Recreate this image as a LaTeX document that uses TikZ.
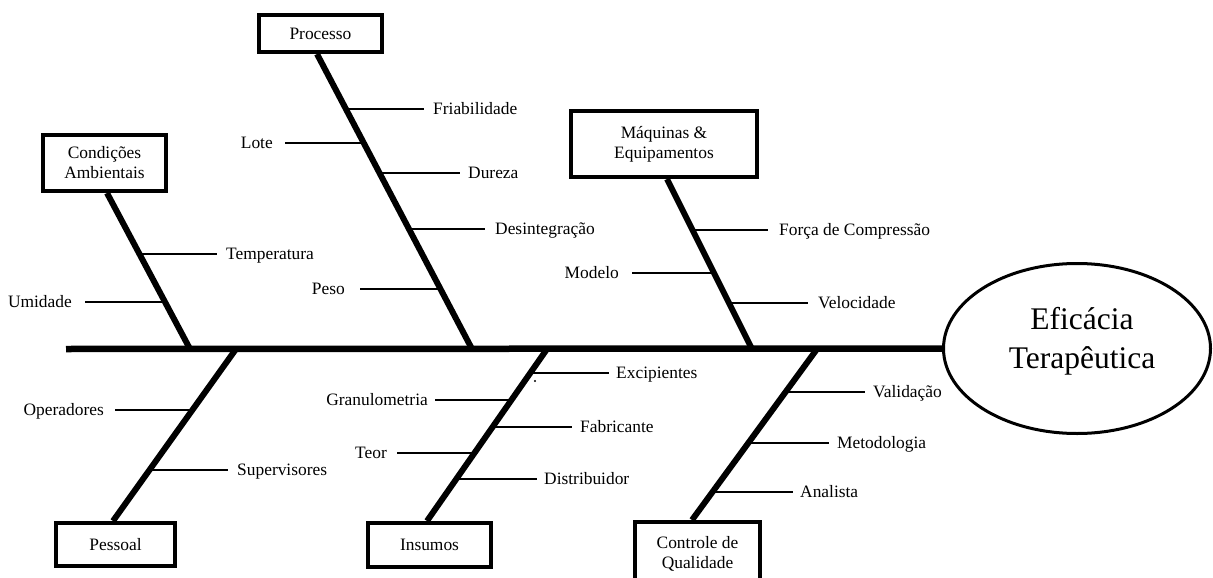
\documentclass[tikz,border=0pt]{standalone}
\usepackage{fontspec}
\setmainfont{Liberation Serif}
\usetikzlibrary{shapes.geometric}
\begin{document}
\begin{tikzpicture}[x=1pt,y=-1pt,
  lab/.style={font=\fontsize{17.4}{20}\selectfont, inner ysep=0pt, inner xsep=9pt, text height=11pt, text depth=0pt},
  labr/.style={lab, anchor=west},
  labl/.style={lab, anchor=east},
  box/.style={draw, line width=4pt, font=\fontsize{17.4}{20}\selectfont, align=center, inner sep=0pt},
  bone/.style={line width=6pt},
  spine/.style={line width=6.5pt},
  sub/.style={line width=2pt}]
\useasboundingbox (0,0) rectangle (1213,578);
\clip (0,0) rectangle (1213,578);

% boxes
\node[box, minimum width=123pt, minimum height=37pt] (pro) at (320.5,33.5) {Processo};
\node[box, minimum width=123pt, minimum height=56pt] (cond) at (104.5,163) {Condições\\Ambientais};
\node[box, minimum width=186pt, minimum height=66pt] (maq) at (664,144) {Máquinas \&\\Equipamentos};
\node[box, minimum width=119pt, minimum height=43pt] (pes) at (115.5,544.5) {Pessoal};
\node[box, minimum width=123pt, minimum height=44pt] (ins) at (429.5,545) {Insumos};
\node[box, minimum width=125pt, minimum height=62pt] (qc) at (697.5,553) {\\[-6pt]Controle de\\Qualidade};

% effect
\node[draw, ellipse, line width=3pt, minimum width=267pt, minimum height=170pt, inner sep=0pt] (eff) at (1077,348.5) {};
\node[font=\fontsize{31.5}{39}\selectfont, align=center, inner sep=0pt] (efft) at (1082,341) {Eficácia\\Terapêutica};

% spine
\coordinate (tail) at (66,349);
\draw[spine] (tail) -- (eff.west);

% spine junctions
\coordinate (jc) at (190,349);
\coordinate (jp) at (472,349);
\coordinate (jm) at (752,349);
\coordinate (js) at (236,349);
\coordinate (ji) at (547,349);
\coordinate (jq) at (817,349);

% bones
\draw[bone] ([xshift=2.5pt]cond.south) -- (jc);
\draw[bone] ([xshift=-3.5pt]pro.south) -- (jp);
\draw[bone] ([xshift=3pt]maq.south) -- (jm);
\draw[bone] ([xshift=-2.5pt]pes.north) -- (js);
\draw[bone] ([xshift=-2.5pt]ins.north) -- (ji);
\draw[bone] ([xshift=-5.5pt]qc.north) -- (jq);

% Processo sub-causes
\coordinate (p1) at (345.9,109);
\coordinate (p2) at (363.8,143);
\coordinate (p3) at (379.5,173);
\coordinate (p4) at (409,229);
\coordinate (p5) at (440,289);
\node[labr, inner xsep=9pt] (fri) at (424,109) {Friabilidade};
\node[labl, inner xsep=12pt] (lote) at (285,143) {Lote};
\node[labr, inner xsep=8pt] (dur) at (460,173) {Dureza};
\node[labr, inner xsep=10pt] (des) at (485,229) {Desintegração};
\node[labl, inner xsep=15pt] (peso) at (360,289) {Peso};
\draw[sub] (p1) -- (fri.west);
\draw[sub] (p2) -- (lote.east);
\draw[sub] (p3) -- (dur.west);
\draw[sub] (p4) -- (des.west);
\draw[sub] (p5) -- (peso.east);

% Condicoes sub-causes
\coordinate (c1) at (139.5,254);
\coordinate (c2) at (165,302);
\node[labr, inner xsep=9pt] (tem) at (217,254) {Temperatura};
\node[labl, inner xsep=13pt] (umi) at (85,302) {Umidade};
\draw[sub] (c1) -- (tem.west);
\draw[sub] (c2) -- (umi.east);

% Maquinas sub-causes
\coordinate (m1) at (692.5,230);
\coordinate (m2) at (714,273);
\coordinate (m3) at (729,303);
\node[labr, inner xsep=11pt] (for) at (768,230) {Força de Compressão};
\node[labl, inner xsep=13pt] (mod) at (632,273) {Modelo};
\node[labr, inner xsep=10pt] (vel) at (808,303) {Velocidade};
\draw[sub] (m1) -- (for.west);
\draw[sub] (m2) -- (mod.east);
\draw[sub] (m3) -- (vel.west);

% Pessoal sub-causes
\coordinate (s1) at (192.4,410);
\coordinate (s2) at (150,470);
\node[labl, inner xsep=11pt] (ope) at (115,410) {Operadores};
\node[labr, inner xsep=9pt] (sup) at (228,470) {Supervisores};
\draw[sub] (s1) -- (ope.east);
\draw[sub] (s2) -- (sup.west);

% Insumos sub-causes
\coordinate (i1) at (530.2,373);
\coordinate (i2) at (511.4,400);
\coordinate (i3) at (492.6,427);
\coordinate (i4) at (474.4,453);
\coordinate (i5) at (456,479);
\node[labr, inner xsep=7pt] (exc) at (609,373) {Excipientes};
\node[labl, inner xsep=7pt] (gra) at (435,400) {Granulometria};
\node[labr, inner xsep=8pt] (fab) at (572,427) {Fabricante};
\node[labl, inner xsep=10pt] (teo) at (397,453) {Teor};
\node[labr, inner xsep=7pt] (dis) at (537,479) {Distribuidor};
\draw[sub] (i1) -- (exc.west);
\draw[sub] (i2) -- (gra.east);
\draw[sub] (i3) -- (fab.west);
\draw[sub] (i4) -- (teo.east);
\draw[sub] (i5) -- (dis.west);
\fill (535,381) circle (1.2);

% Controle sub-causes
\coordinate (q1) at (785.7,392);
\coordinate (q2) at (748.7,443);
\coordinate (q3) at (713,492);
\node[labr, inner xsep=8pt] (val) at (865,392) {Validação};
\node[labr, inner xsep=8pt] (met) at (829,443) {Metodologia};
\node[labr, inner xsep=7pt] (ana) at (793,492) {Analista};
\draw[sub] (q1) -- (val.west);
\draw[sub] (q2) -- (met.west);
\draw[sub] (q3) -- (ana.west);
\end{tikzpicture}
\end{document}
